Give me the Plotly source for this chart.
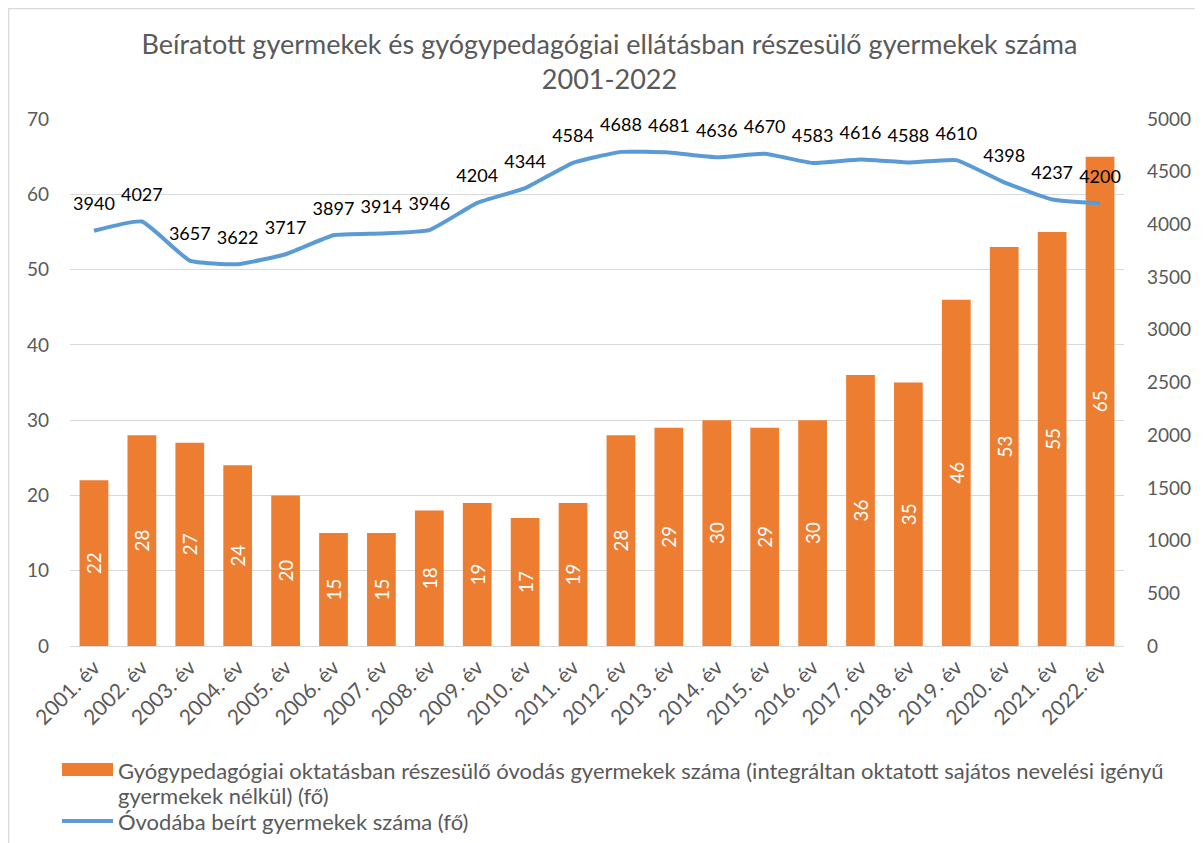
import plotly.graph_objects as go

years = [f"{y}. év" for y in range(2001, 2023)]
special_ed = [22, 28, 27, 24, 20, 15, 15, 18, 19, 17, 19, 28, 29, 30, 29, 30, 36, 35, 46, 53, 55, 65]
enrolled = [3940, 4027, 3657, 3622, 3717, 3897, 3914, 3946, 4204, 4344, 4584, 4688, 4681, 4636, 4670, 4583, 4616, 4588, 4610, 4398, 4237, 4200]

bar_line1 = "Gyógypedagógiai oktatásban részesülő óvodás gyermekek száma (integráltan oktatott sajátos nevelési igényű"
bar_line2 = "gyermekek nélkül) (fő)"
line_name = "Óvodába beírt gyermekek száma (fő)"
title = "Beíratott gyermekek és gyógypedagógiai ellátásban részesülő gyermekek száma<br>2001-2022"

FONT = "Lato"
GRAY = "#595959"
ORANGE = "#ED7D31"
BLUE = "#5B9BD5"

W, H = 1203, 843
OFF = 8  # page body margin
# desired plot area in page pixels
PL, PR, PT, PB = 70, 1124, 119, 646
L, T = PL - OFF, PT - OFF
R, B = W - (PR - OFF), H - (PB - OFF)


def px(x):
    return (x - PL) / (PR - PL)


def py(y):
    return (PB - y) / (PB - PT)


fig = go.Figure()
fig.add_trace(go.Bar(
    x=years, y=special_ed, name=bar_line1,
    marker=dict(color=ORANGE, line=dict(width=0)),
    text=[str(v) for v in special_ed], textposition="inside",
    insidetextanchor="middle", textangle=-90,
    textfont=dict(color="white", size=19, family=FONT),
    width=0.6, showlegend=False,
))
fig.add_trace(go.Scatter(
    x=years, y=enrolled, name=line_name, yaxis="y2",
    mode="lines+markers+text",
    line=dict(color=BLUE, width=4, shape="spline", smoothing=0.4),
    marker=dict(size=24, opacity=0, color=BLUE),
    text=[str(v) for v in enrolled], textposition="top center",
    textfont=dict(color="black", size=18, family=FONT),
    showlegend=False, cliponaxis=False,
))

LEG_FONT = dict(size=22, color=GRAY, family=FONT)
shapes = [
    dict(type="rect", xref="paper", yref="paper",
         x0=px(8.5), x1=px(1300), y0=py(8.5), y1=py(950),
         line=dict(color="#D9D9D9", width=1.5)),
    dict(type="rect", xref="paper", yref="paper",
         x0=px(62), x1=px(113), y0=py(776), y1=py(763),
         fillcolor=ORANGE, line=dict(width=0)),
    dict(type="line", xref="paper", yref="paper",
         x0=px(62), x1=px(113), y0=py(821), y1=py(821),
         line=dict(color=BLUE, width=4)),
]
annotations = [
    dict(text=bar_line1, xref="paper", yref="paper", x=px(116), y=py(770),
         xanchor="left", yanchor="middle", showarrow=False, font=LEG_FONT),
    dict(text=bar_line2, xref="paper", yref="paper", x=px(116), y=py(795),
         xanchor="left", yanchor="middle", showarrow=False, font=LEG_FONT),
    dict(text=line_name, xref="paper", yref="paper", x=px(116), y=py(821),
         xanchor="left", yanchor="middle", showarrow=False, font=LEG_FONT),
]

fig.update_layout(
    width=W, height=H,
    paper_bgcolor="white", plot_bgcolor="white",
    font=dict(family=FONT, color=GRAY, size=18),
    title=dict(text=title, x=0.5, xref="container", xanchor="center",
               y=1 - 46 / H, yref="container", yanchor="top",
               font=dict(size=27, color=GRAY, family=FONT)),
    margin=dict(l=L, r=R, t=T, b=B),
    xaxis=dict(tickangle=-45, tickfont=dict(size=21, color=GRAY),
               range=[-0.5, len(years) - 0.5],
               showline=True, linecolor="#D9D9D9", linewidth=1, ticks="",
               automargin=False),
    yaxis=dict(range=[0, 70], dtick=10, showgrid=True, gridcolor="#D9D9D9",
               gridwidth=1, zeroline=False, tickfont=dict(size=19, color=GRAY),
               automargin=False, ticklabelstandoff=20),
    yaxis2=dict(range=[0, 5000], dtick=500, overlaying="y", side="right",
                showgrid=False, zeroline=False, tickfont=dict(size=19, color=GRAY),
                automargin=False, ticklabelstandoff=22),
    showlegend=False,
    hovermode=False,
    shapes=shapes,
    annotations=annotations,
)

fig.write_html("out.html")
